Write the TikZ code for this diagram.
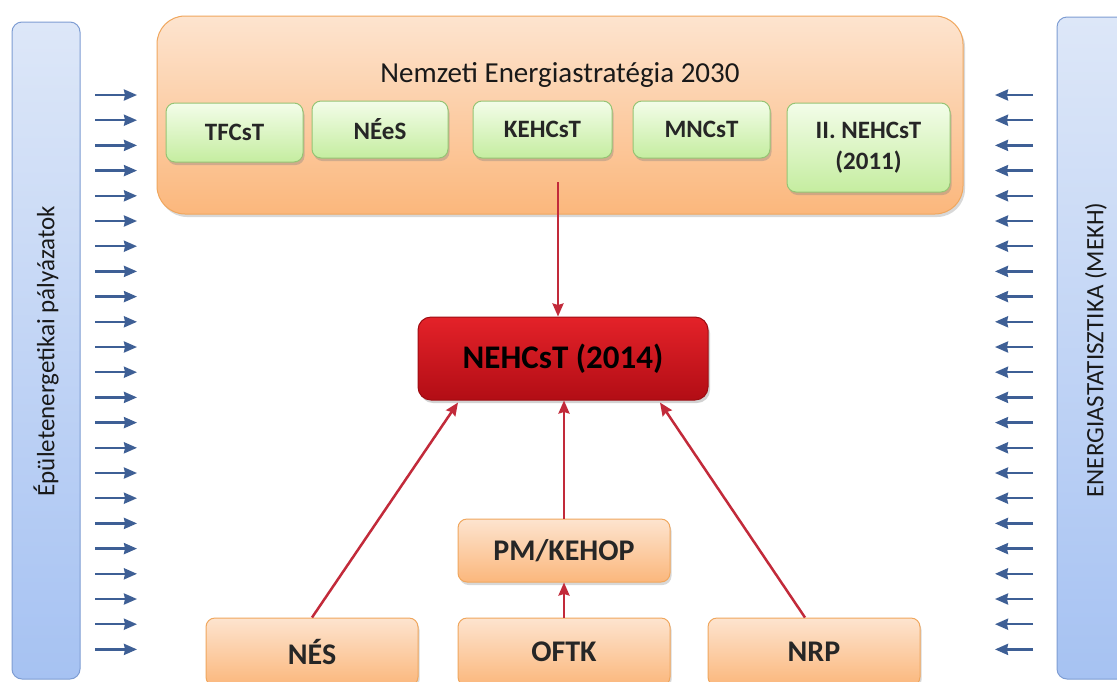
\documentclass[tikz,border=0pt]{standalone}
\usepackage{fontspec}
\setmainfont{Carlito}
\usetikzlibrary{arrows.meta,shadows}
\definecolor{bluetop}{HTML}{DDE7F8}
\definecolor{bluebot}{HTML}{A6C2F2}
\definecolor{blueedge}{HTML}{7E9DD3}
\definecolor{bluearr}{HTML}{3E5F95}
\definecolor{orgtop}{HTML}{FDE4CF}
\definecolor{orgbot}{HTML}{FBB77C}
\definecolor{orgedge}{HTML}{F0A75E}
\definecolor{grntop}{HTML}{F3FDE9}
\definecolor{grnbot}{HTML}{C5EDA0}
\definecolor{grnedge}{HTML}{96C474}
\definecolor{redtop}{HTML}{E42229}
\definecolor{redbot}{HTML}{B20D15}
\definecolor{rededge}{HTML}{9E0C12}
\definecolor{redarr}{HTML}{C22A3A}
\tikzset{
  sidebar/.style={draw=blueedge,line width=1pt,rounded corners=10pt,top color=bluetop,bottom color=bluebot},
  bluearrow/.style={draw=bluearr,line width=2.4pt,-{Stealth[length=13pt,width=11pt,inset=1pt]}},
  bigbox/.style={draw=orgedge,line width=1pt,rounded corners=28pt,top color=orgtop,bottom color=orgbot,
     drop shadow={opacity=0.3,shadow xshift=2pt,shadow yshift=-3pt}},
  greenbox/.style={draw=grnedge,line width=1pt,rounded corners=9pt,top color=grntop,bottom color=grnbot,
     drop shadow={opacity=0.35,shadow xshift=1.5pt,shadow yshift=-3pt},align=center,
     font=\bfseries\fontsize{25}{31}\selectfont,text=black!85,inner sep=0pt},
  orangebox/.style={draw=orgedge,line width=1pt,rounded corners=9pt,top color=orgtop,bottom color=orgbot,
     drop shadow={opacity=0.3,shadow xshift=1.5pt,shadow yshift=-3pt},
     font=\bfseries\fontsize{30}{36}\selectfont,text=black!85,inner sep=0pt,minimum width=212pt},
  redbox/.style={draw=rededge,line width=1pt,rounded corners=13pt,top color=redtop,bottom color=redbot,
     drop shadow={opacity=0.35,shadow xshift=2pt,shadow yshift=-3pt},
     font=\bfseries\fontsize{33}{40}\selectfont,text=black,inner sep=0pt},
  redarrow/.style={draw=redarr,line width=2.5pt,-{Stealth[length=13pt,width=11pt,inset=1.5pt]}},
  sidetext/.style={rotate=90,font=\fontsize{25}{30}\selectfont,text=black!90}
}
\begin{document}
\begin{tikzpicture}[x=1pt,y=-1pt]
\useasboundingbox (0,0) rectangle (1117,681);
\clip (0,0) rectangle (1117,681);
\fill[white] (0,0) rectangle (1117,681);
% side bars
\path[sidebar] (12,22) rectangle (80,679);
\path[sidebar] (1057,17) rectangle (1135,679);
\node[sidetext] (lefttext) at (46,351) {Épületenergetikai pályázatok};
\node[sidetext] (righttext) at (1096,350) {ENERGIASTATISZTIKA (MEKH)};
% blue arrows
\foreach \i in {0,...,22}{
  \draw[bluearrow] (95,{95+\i*25.2}) -- (137,{95+\i*25.2});
  \draw[bluearrow] (1033,{95+\i*25.2}) -- (995,{95+\i*25.2});
}
% big orange box
\node[bigbox,minimum width=806pt,minimum height=198pt,inner sep=0pt] (big) at (560,115) {};
\node[font=\fontsize{29}{35}\selectfont,text=black!90] (title) at (560,75) {Nemzeti Energiastratégia 2030};
\node[greenbox,minimum width=137pt,minimum height=59pt] (tf) at (234.5,132.5) {TFCsT};
\node[greenbox,minimum width=136pt,minimum height=57pt] (nees) at (380,129.5) {NÉeS};
\node[greenbox,minimum width=139pt,minimum height=57pt] (keh) at (542.5,129.5) {KEHCsT};
\node[greenbox,minimum width=137pt,minimum height=57pt] (mnc) at (701.5,129.5) {MNCsT};
\node[greenbox,minimum width=163pt,minimum height=89pt] (neh2011) at (868.5,147.5) {II. NEHCsT\\(2011)};
% main red box
\node[redbox,minimum width=290pt,minimum height=83pt] (main) at (563,358.5) {NEHCsT (2014)};
% bottom boxes
\node[orangebox,minimum height=63pt] (pm) at (564,550.5) {PM/KEHOP};
\node[orangebox,minimum height=68pt] (nes) at (312,652) {NÉS};
\node[orangebox,minimum height=68pt] (oftk) at (564,652) {OFTK};
\node[orangebox,minimum height=68pt] (nrp) at (814,652) {NRP};
% connectors
\coordinate (bs) at (558,182);
\draw[redarrow] (bs) -- (bs |- main.north);
\draw[redarrow] (nes.north) -- ([xshift=-105pt,yshift=-2pt]main.south);
\draw[redarrow] ([xshift=-9pt]nrp.north) -- ([xshift=97pt,yshift=-2pt]main.south);
\draw[redarrow] (pm.north) -- (pm.north |- main.south);
\draw[redarrow] (oftk.north) -- (pm.south);
\end{tikzpicture}
\end{document}
